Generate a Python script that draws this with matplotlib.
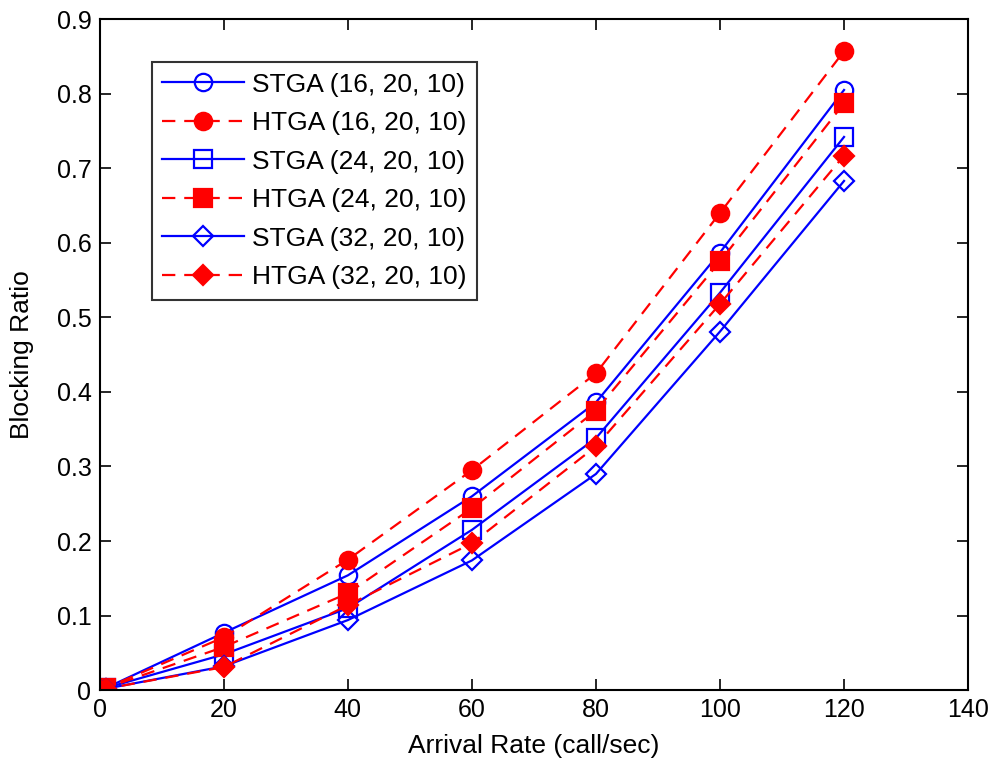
import matplotlib
matplotlib.use("Agg")
import matplotlib.pyplot as plt

plt.rcParams['font.family'] = ['Liberation Sans', 'DejaVu Sans']

rate = [0, 1, 20, 40, 60, 80, 100, 120]

stga_16 = [0, 0.003, 0.077, 0.154, 0.260, 0.386, 0.587, 0.805]
htga_16 = [0, 0.003, 0.071, 0.175, 0.295, 0.425, 0.640, 0.857]
stga_24 = [0, 0.003, 0.048, 0.110, 0.215, 0.338, 0.533, 0.742]
htga_24 = [0, 0.003, 0.058, 0.130, 0.244, 0.375, 0.575, 0.787]
stga_32 = [0, 0.002, 0.032, 0.094, 0.174, 0.290, 0.481, 0.683]
htga_32 = [0, 0.002, 0.031, 0.114, 0.197, 0.327, 0.518, 0.717]

labels = ["STGA (16, 20, 10)", "HTGA (16, 20, 10)",
          "STGA (24, 20, 10)", "HTGA (24, 20, 10)",
          "STGA (32, 20, 10)", "HTGA (32, 20, 10)"]

fig = plt.figure(figsize=(9.98, 7.66), dpi=100)
ax = fig.add_axes([0.100, 0.099, 0.870, 0.876])

blue = "#0000ff"
red = "#ff0000"
ms = 12.5
lw = 1.6

series = [
    (stga_16, blue, '-', 'o', 'none'),
    (htga_16, red, (0, (6, 4)), 'o', red),
    (stga_24, blue, '-', 's', 'none'),
    (htga_24, red, (0, (6, 4)), 's', red),
    (stga_32, blue, '-', 'D', 'none'),
    (htga_32, red, (0, (6, 4)), 'D', red),
]

for (vals, col, ls, mk, fc), lab in zip(series, labels):
    ax.plot(rate, vals, color=col, linestyle=ls, linewidth=lw, marker=mk,
            markersize=ms if mk != 'D' else ms * 0.85,
            markerfacecolor=fc, markeredgecolor=col, markeredgewidth=1.6,
            label=lab)

ax.set_xlim(0, 140)
ax.set_ylim(0, 0.9)
ax.set_xticks(range(0, 141, 20))
ax.set_yticks([0, 0.1, 0.2, 0.3, 0.4, 0.5, 0.6, 0.7, 0.8, 0.9])
ax.set_yticklabels(["0", "0.1", "0.2", "0.3", "0.4", "0.5", "0.6", "0.7", "0.8", "0.9"])
ax.tick_params(direction='in', length=8, width=1.2, labelsize=18, top=True, right=True, pad=6)
for sp in ax.spines.values():
    sp.set_linewidth(1.5)

ax.set_xlabel("Arrival Rate (call/sec)", fontsize=19, labelpad=8)
ax.set_ylabel("Blocking Ratio", fontsize=19, labelpad=16)

leg = ax.legend(loc='upper left', bbox_to_anchor=(0.06, 0.936), fontsize=19,
                handlelength=3.1, frameon=True, fancybox=False, edgecolor='k',
                borderpad=0.4, labelspacing=0.55, handletextpad=0.3,
                borderaxespad=0)
leg.get_frame().set_linewidth(1.5)

fig.savefig("out.png", dpi=100)
